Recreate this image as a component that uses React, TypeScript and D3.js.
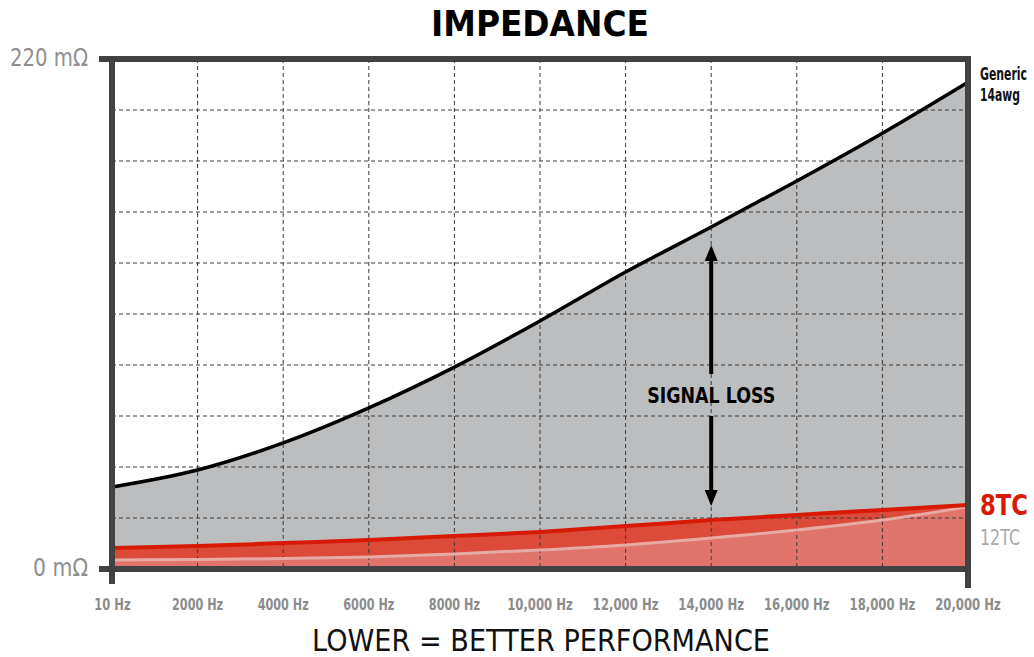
import React from 'react';
import * as d3 from 'd3';

const freqs = [10, 2000, 4000, 6000, 8000, 10000, 12000, 14000, 16000, 18000, 20000];
const xTickLabels = ['10 Hz', '2000 Hz', '4000 Hz', '6000 Hz', '8000 Hz', '10,000 Hz', '12,000 Hz', '14,000 Hz', '16,000 Hz', '18,000 Hz', '20,000 Hz'];
const generic14awg = [35.4, 42.7, 54.4, 69.5, 87.1, 107, 128.1, 147.5, 167.4, 188, 210];
const tc8 = [9.1, 9.9, 11.2, 12.5, 14.2, 16, 18.5, 21.1, 23.3, 25.5, 27.6];
const tc12 = [3.9, 4.1, 4.5, 5.2, 6.5, 8.2, 10.4, 13.4, 16.8, 21.1, 26.8];
const yTicks = [0, 22, 44, 66, 88, 110, 132, 154, 176, 198, 220];
const yLabelValues = [0, 220];

const W = 1034;
const H = 657;
const font = "'DejaVu Sans', sans-serif";
const SX = 0.68; // horizontal squeeze for the narrow labels

// narrow text: squeezed with a transform so its box matches what is drawn
const Narrow = ({ x, y, width, anchor = 'start', children, ...rest }: any) => (
    <text transform={`translate(${x},${y}) scale(${SX},1)`} textAnchor={anchor} fontFamily={font}
        textLength={width / SX} lengthAdjust="spacingAndGlyphs" {...rest}>{children}</text>
);

const App = () => {
    const x = d3.scaleLinear().domain([0, 20000]).range([112, 968]);
    const y = d3.scaleLinear().domain([0, 220]).range([569, 59]);

    const pts = (vals: number[]) => freqs.map((f, i) => [f, vals[i]] as [number, number]);

    const area = d3.area<[number, number]>()
        .x(d => x(d[0]))
        .y0(y(0))
        .y1(d => y(d[1]))
        .curve(d3.curveMonotoneX);
    const line = d3.line<[number, number]>()
        .x(d => x(d[0]))
        .y(d => y(d[1]))
        .curve(d3.curveMonotoneX);

    const arrowX = x(14000);
    const frame = '#424242';

    return (
        <svg width={W} height={H} style={{ position: 'absolute', left: 0, top: 0, background: '#fff' }}>
            <text x={540} y={36} textAnchor="middle" fontFamily={font} fontWeight="bold" fontSize={36} textLength={218} lengthAdjust="spacingAndGlyphs">IMPEDANCE</text>

            <path d={area(pts(generic14awg)) || ''} fill="#bcbdbf" />
            <path d={area(pts(tc8)) || ''} fill="#dc4a3a" />
            <path d={area(pts(tc12)) || ''} fill="#e0746b" />

            {yTicks.slice(1, -1).map(t => (
                <line key={'gy' + t} x1={x(0)} x2={x(20000)} y1={y(t)} y2={y(t)} stroke="#3a3a3a" strokeWidth={1} strokeDasharray="4,3" />
            ))}
            {freqs.slice(1, -1).map(f => (
                <line key={'gx' + f} x1={x(f)} x2={x(f)} y1={y(220)} y2={y(0)} stroke="#3a3a3a" strokeWidth={1} strokeDasharray="4,3" />
            ))}

            <path d={line(pts(tc12)) || ''} fill="none" stroke="#e8aba4" strokeWidth={3} />
            <path d={line(pts(tc8)) || ''} fill="none" stroke="#d71a06" strokeWidth={4} />
            <path d={line(pts(generic14awg)) || ''} fill="none" stroke="#000" strokeWidth={3.5} />

            {/* frame */}
            <line x1={99} x2={971} y1={y(220)} y2={y(220)} stroke={frame} strokeWidth={6} />
            <line x1={99} x2={971} y1={y(0)} y2={y(0)} stroke={frame} strokeWidth={6} />
            <line x1={x(0)} x2={x(0)} y1={56} y2={584} stroke={frame} strokeWidth={6} />
            <line x1={x(20000)} x2={x(20000)} y1={56} y2={588} stroke={frame} strokeWidth={6} />

            {/* signal loss arrow */}
            <line x1={arrowX} x2={arrowX} y1={256} y2={374} stroke="#000" strokeWidth={4} />
            <path d={`M${arrowX},245 L${arrowX - 6.5},261 L${arrowX + 6.5},261 Z`} fill="#000" />
            <line x1={arrowX} x2={arrowX} y1={416} y2={494} stroke="#000" strokeWidth={4} />
            <path d={`M${arrowX},506 L${arrowX - 6.5},490 L${arrowX + 6.5},490 Z`} fill="#000" />
            <Narrow x={arrowX} y={403} width={128} anchor="middle" fontWeight="bold" fontSize={22}>SIGNAL LOSS</Narrow>

            {/* axis labels */}
            {yLabelValues.map(v => (
                <Narrow key={'yl' + v} x={88} y={y(v) + 7} width={v === 0 ? 55 : 78} anchor="end" fontSize={24} fill="#8e8e8e">{v} mΩ</Narrow>
            ))}
            {freqs.map((f, i) => (
                <Narrow key={'xl' + f} x={x(f)} y={610} width={xTickLabels[i].length * 7.3} anchor="middle" fontWeight="bold" fontSize={15} fill="#8c8c8c">{xTickLabels[i]}</Narrow>
            ))}

            {/* series labels */}
            <Narrow x={980} y={80} width={47} fontWeight="bold" fontSize={17} fill="#111">Generic</Narrow>
            <Narrow x={980} y={101} width={40} fontWeight="bold" fontSize={17} fill="#111">14awg</Narrow>
            <Narrow x={980} y={515} width={48} fontWeight="bold" fontSize={28} fill="#d71a06">8TC</Narrow>
            <Narrow x={980} y={545} width={40} fontSize={22} fill="#a9a9a9">12TC</Narrow>

            <text x={541} y={651} textAnchor="middle" fontFamily={font} fontSize={31} fill="#111" textLength={458} lengthAdjust="spacingAndGlyphs">LOWER = BETTER PERFORMANCE</text>
        </svg>
    );
};

export default App;
